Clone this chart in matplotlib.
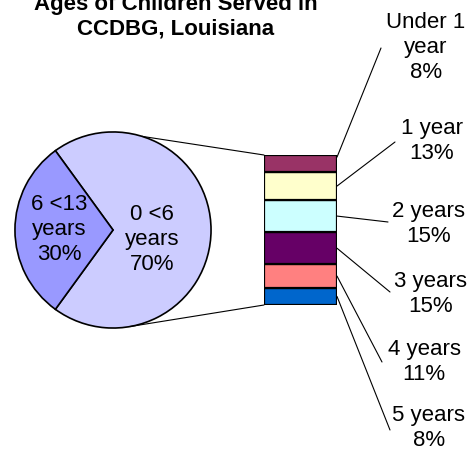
import numpy as np
import matplotlib
matplotlib.use("Agg")
import matplotlib.pyplot as plt
from matplotlib.patches import ConnectionPatch

plt.rcParams['font.family'] = ['Liberation Sans', 'DejaVu Sans']

# data
pie_labels = ["0 <6\nyears", "6 <13\nyears"]
pie_values = [70, 30]
pie_colors = ["#CCCCFF", "#9999FF"]

bar_labels = ["Under 1\nyear", "1 year", "2 years", "3 years", "4 years", "5 years"]
bar_values = [8, 13, 15, 15, 11, 8]
bar_colors = ["#993366", "#FFFFCC", "#CCFFFF", "#660066", "#FF8080", "#0066CC"]

title = "Ages of Children Served in\nCCDBG, Louisiana"

W, H = 474, 451
fig = plt.figure(figsize=(W / 100, H / 100), dpi=100)

def px(x, y):
    # image pixel (from top-left) -> figure fraction
    return x / W, 1 - y / H

def box(x0, y0, x1, y1):
    return [x0 / W, 1 - y1 / H, (x1 - x0) / W, (y1 - y0) / H]

# pie
ax1 = fig.add_axes(box(13, 130, 213, 330))
ax1.pie(pie_values, colors=pie_colors, startangle=234, counterclock=True,
        radius=1, wedgeprops=dict(edgecolor="black", linewidth=1.2))
ax1.set_xlim(-1.02, 1.02)
ax1.set_ylim(-1.02, 1.02)
ax1.set_aspect("equal")
ax1.axis("off")

pie_text_pos = [(0.4, -0.1), (-0.55, 0.0)]
for lab, v, (tx, ty) in zip(pie_labels, pie_values, pie_text_pos):
    ax1.text(tx, ty, "%s\n%d%%" % (lab, v), ha="center", va="center",
             fontsize=16, multialignment="center", linespacing=1.25)

# stacked bar (top to bottom in the list -> stack from bottom)
ax2 = fig.add_axes(box(264, 155, 337, 305))
bottom = 0
mids = {}
for lab, v, c in reversed(list(zip(bar_labels, bar_values, bar_colors))):
    ax2.bar(0.5, v, width=1, bottom=bottom, color=c, edgecolor="black", linewidth=1.6)
    mids[lab] = bottom + v / 2
    bottom += v
ax2.set_xlim(0, 1)
ax2.set_ylim(0, sum(bar_values))
ax2.axis("off")

# connector lines pie -> bar
for ang, yb in [(72.8, sum(bar_values)), (-80, 0)]:
    a = np.deg2rad(ang)
    con = ConnectionPatch(xyA=(np.cos(a), np.sin(a)), coordsA=ax1.transData,
                          xyB=(0, yb), coordsB=ax2.transData,
                          color="black", linewidth=0.8)
    fig.add_artist(con)

# labels with leader lines
leader_end = [(381, 48), (395, 142), (388, 222), (390, 292), (382, 362), (390, 430)]
text_pos = [(426, 48), (432, 141), (429, 224), (431, 294), (424, 362), (429, 428)]
for i, (lab, v) in enumerate(zip(bar_labels, bar_values)):
    ystart = mids[lab]
    if i == 0:
        ystart = sum(bar_values) - 1
    ax2.annotate("", xy=(1, ystart), xycoords="data",
                 xytext=px(*leader_end[i]), textcoords="figure fraction",
                 arrowprops=dict(arrowstyle="-", color="black", lw=0.8,
                                 shrinkA=0, shrinkB=0),
                 annotation_clip=False)
    tx, ty = px(*text_pos[i])
    fig.text(tx, ty, "%s\n%d%%" % (lab, v), ha="center", va="center",
             fontsize=16, multialignment="center", linespacing=1.25)

tx, ty = px(176, 17)
fig.text(tx, ty, title, ha="center", va="center", fontsize=16,
         fontweight="bold", multialignment="center", linespacing=1.2)

fig.savefig("out.png", dpi=100)
